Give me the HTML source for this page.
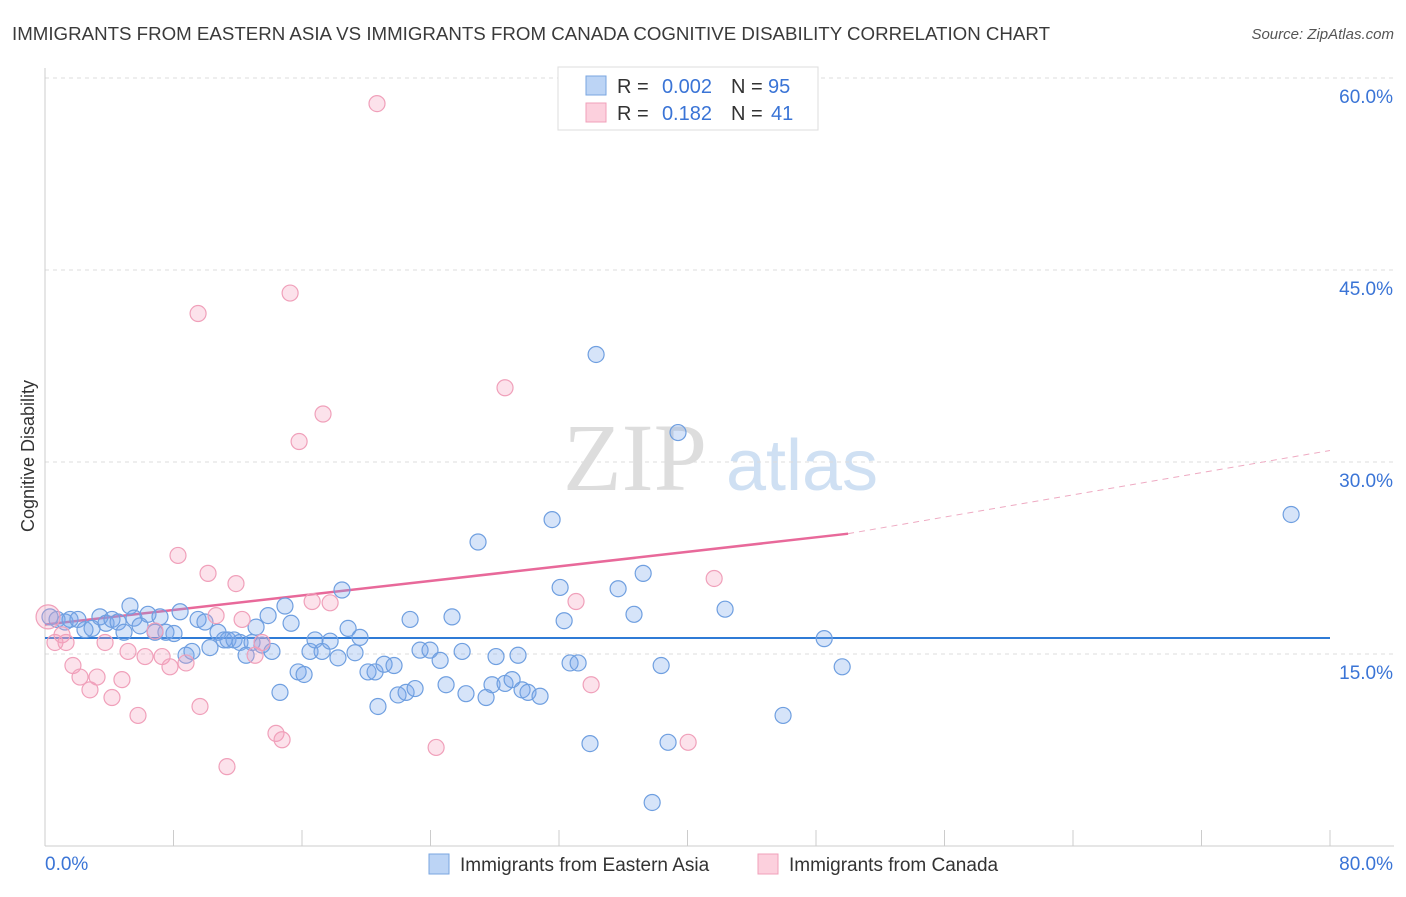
<!DOCTYPE html>
<html><head><meta charset="utf-8"><style>
body{margin:0;background:#fff;font-family:"Liberation Sans",sans-serif;}
svg text{font-family:"Liberation Sans",sans-serif;}
</style></head><body>
<svg id="chart" width="1406" height="892" xmlns="http://www.w3.org/2000/svg">
<text x="12" y="40" font-size="18" fill="#3a3a3a" textLength="1038" lengthAdjust="spacingAndGlyphs">IMMIGRANTS FROM EASTERN ASIA VS IMMIGRANTS FROM CANADA COGNITIVE DISABILITY CORRELATION CHART</text>
<text x="1394" y="39" font-size="15" fill="#555" font-style="italic" text-anchor="end">Source: ZipAtlas.com</text>
<text x="34" y="456" font-size="18" fill="#333" text-anchor="middle" transform="rotate(-90 34 456)">Cognitive Disability</text>
<g>
<text x="635" y="490" font-size="96" fill="#ddd" font-family="Liberation Serif" text-anchor="middle" style="font-family:'Liberation Serif',serif">ZIP</text>
<text x="802" y="490" font-size="72" fill="#cfe0f3" text-anchor="middle">atlas</text>
</g>
<g id="grid"></g><g id="axes"></g><g id="trend"></g><g id="pts"></g>
<g>
<rect x="558" y="67" width="260" height="63" fill="#fff" stroke="#ddd"/>
<rect x="586" y="76" width="20" height="19" fill="#bcd4f5" stroke="#7aa6e0"/>
<rect x="586" y="103" width="20" height="19" fill="#fcd0dd" stroke="#f0a0ba"/>
<text x="617" y="93" font-size="20" fill="#333">R =</text>
<text x="712" y="93" font-size="20" fill="#3a74d6" text-anchor="end">0.002</text>
<text x="731" y="93" font-size="20" fill="#333">N =</text>
<text x="768" y="93" font-size="20" fill="#3a74d6">95</text>
<text x="617" y="120" font-size="20" fill="#333">R =</text>
<text x="712" y="120" font-size="20" fill="#3a74d6" text-anchor="end">0.182</text>
<text x="731" y="120" font-size="20" fill="#333">N =</text>
<text x="771" y="120" font-size="20" fill="#3a74d6">41</text>
</g>
<g>
<rect x="429" y="854" width="20" height="20" fill="#bcd4f5" stroke="#7aa6e0"/>
<text x="460" y="871" font-size="19" fill="#333">Immigrants from Eastern Asia</text>
<rect x="758" y="854" width="20" height="20" fill="#fcd0dd" stroke="#f0a0ba"/>
<text x="789" y="871" font-size="19" fill="#333">Immigrants from Canada</text>
</g>
</svg>
<script>
const yTicks=[15,30,45,60];
const yTickLabels=["15.0%","30.0%","45.0%","60.0%"];
const xTickVals=[0,8,16,24,32,40,48,56,64,72,80];
const blueX=[0.31,0.75,1.25,1.56,2.05,2.49,2.93,3.42,3.80,4.17,4.55,4.92,5.29,5.54,5.92,6.41,6.85,7.16,7.53,8.03,8.41,8.78,9.15,9.53,9.96,10.27,10.77,11.15,11.39,11.77,12.14,12.52,12.89,13.14,13.51,13.89,14.13,14.63,14.94,15.32,15.76,16.13,16.5,16.81,17.25,17.75,18.24,18.49,18.87,19.30,19.61,20.11,20.55,20.73,21.11,21.73,21.98,22.48,22.73,23.04,23.35,23.97,24.60,24.97,25.34,25.97,26.21,26.96,27.46,27.83,28.08,28.64,29.08,29.45,29.70,30.07,30.82,31.57,32.07,32.32,32.69,33.19,33.93,34.31,35.68,36.67,37.24,37.80,38.36,38.79,39.41,42.34,45.95,48.51,49.63,77.58];
const blueY=[17.9,17.7,17.5,17.7,17.7,16.9,17.0,17.9,17.4,17.7,17.5,16.7,18.75,17.8,17.2,18.1,16.7,17.9,16.7,16.6,18.3,14.9,15.2,17.7,17.5,15.5,16.7,16.1,16.1,16.1,15.9,14.9,15.9,17.1,15.7,18.0,15.2,12.0,18.75,17.4,13.6,13.4,15.2,16.1,15.2,16.0,14.7,20.0,17.0,15.1,16.3,13.6,13.6,10.9,14.2,14.1,11.8,12.0,17.7,12.3,15.3,15.3,14.5,12.6,17.9,15.2,11.9,23.75,11.6,12.6,14.8,12.7,13.0,14.9,12.2,12.0,11.7,25.5,20.2,17.6,14.3,14.3,8.0,38.4,20.1,18.1,21.3,3.4,14.1,8.1,32.3,18.5,10.2,16.2,14.0,25.9];
const pinkX=[0.19,0.62,1.06,1.31,1.74,2.18,2.80,3.24,3.74,4.17,4.79,5.17,5.79,6.23,6.85,7.29,7.78,8.28,8.78,9.53,9.65,10.15,10.65,11.33,11.89,12.27,13.08,13.51,14.38,14.76,15.26,15.82,16.63,17.31,17.75,20.67,24.35,28.64,33.06,34.0,40.04,41.66];
const pinkY=[17.9,15.9,16.5,15.9,14.1,13.2,12.2,13.2,15.9,11.6,13.0,15.2,10.2,14.8,16.8,14.8,14.0,22.7,14.3,41.6,10.9,21.3,18.0,6.2,20.5,17.7,14.9,15.9,8.8,8.3,43.2,31.6,19.1,33.75,19.0,58.0,7.7,35.8,19.1,12.6,8.1,20.9];
const blueTrend=[16.25,16.25];
const pinkTrend=[17.3,24.4,30.9];
const pinkTrendX=[0,50,80];

const NS="http://www.w3.org/2000/svg";
const X=v=>45+v*16.0625, Y=v=>846-v*12.8;
function mk(t,a,p){const e=document.createElementNS(NS,t);for(const k in a)e.setAttribute(k,a[k]);document.getElementById(p).appendChild(e);return e;}
yTicks.forEach((t,i)=>{
 const g=mk('line',{x1:45,x2:1394,y1:Y(t),y2:Y(t),stroke:'#ddd','stroke-dasharray':'4,4'},'grid');
 
 
 const l=mk('text',{x:1393,y:Y(t)+25,'font-size':19,fill:'#3a74d6','text-anchor':'end'},'axes');
 l.textContent=yTickLabels[i];
 
 
});
const ax=mk('line',{x1:45,x2:45,y1:68,y2:846,stroke:'#ccc'},'axes');


const bx=mk('line',{x1:45,x2:1394,y1:846,y2:846,stroke:'#ccc'},'axes');


xTickVals.forEach(v=>{
 const t=mk('line',{x1:X(v),x2:X(v),y1:830,y2:846,stroke:'#ccc'},'axes');
 
 
});
const x0=mk('text',{x:45,y:870,'font-size':19,fill:'#3a74d6'},'axes');x0.textContent='0.0%';


const x1=mk('text',{x:1393,y:870,'font-size':19,fill:'#3a74d6','text-anchor':'end'},'axes');x1.textContent='80.0%';


blueX.forEach((v,i)=>{
 const c=mk('circle',{cx:X(v),cy:Y(blueY[i]),r:8,fill:'rgba(120,165,235,0.3)',stroke:'#6f9fe0','stroke-width':1.2},'pts');
 
 
});
pinkX.forEach((v,i)=>{
 const c=mk('circle',{cx:X(v),cy:Y(pinkY[i]),r:i==0?12:8,fill:'rgba(245,160,190,0.3)',stroke:'#f0a0ba','stroke-width':1.2},'pts');
 
 
});
const bl=mk('line',{x1:X(0),x2:X(80),y1:Y(blueTrend[0]),y2:Y(blueTrend[1]),stroke:'#2f7bd6','stroke-width':2},'trend');


const pl=mk('line',{x1:X(pinkTrendX[0]),x2:X(pinkTrendX[1]),y1:Y(pinkTrend[0]),y2:Y(pinkTrend[1]),stroke:'#e8699a','stroke-width':2.5},'trend');


const pd=mk('line',{x1:X(pinkTrendX[1]),x2:X(pinkTrendX[2]),y1:Y(pinkTrend[1]),y2:Y(pinkTrend[2]),stroke:'#eeaac2','stroke-width':1,'stroke-dasharray':'6,5'},'trend');


</script>
</body></html>
